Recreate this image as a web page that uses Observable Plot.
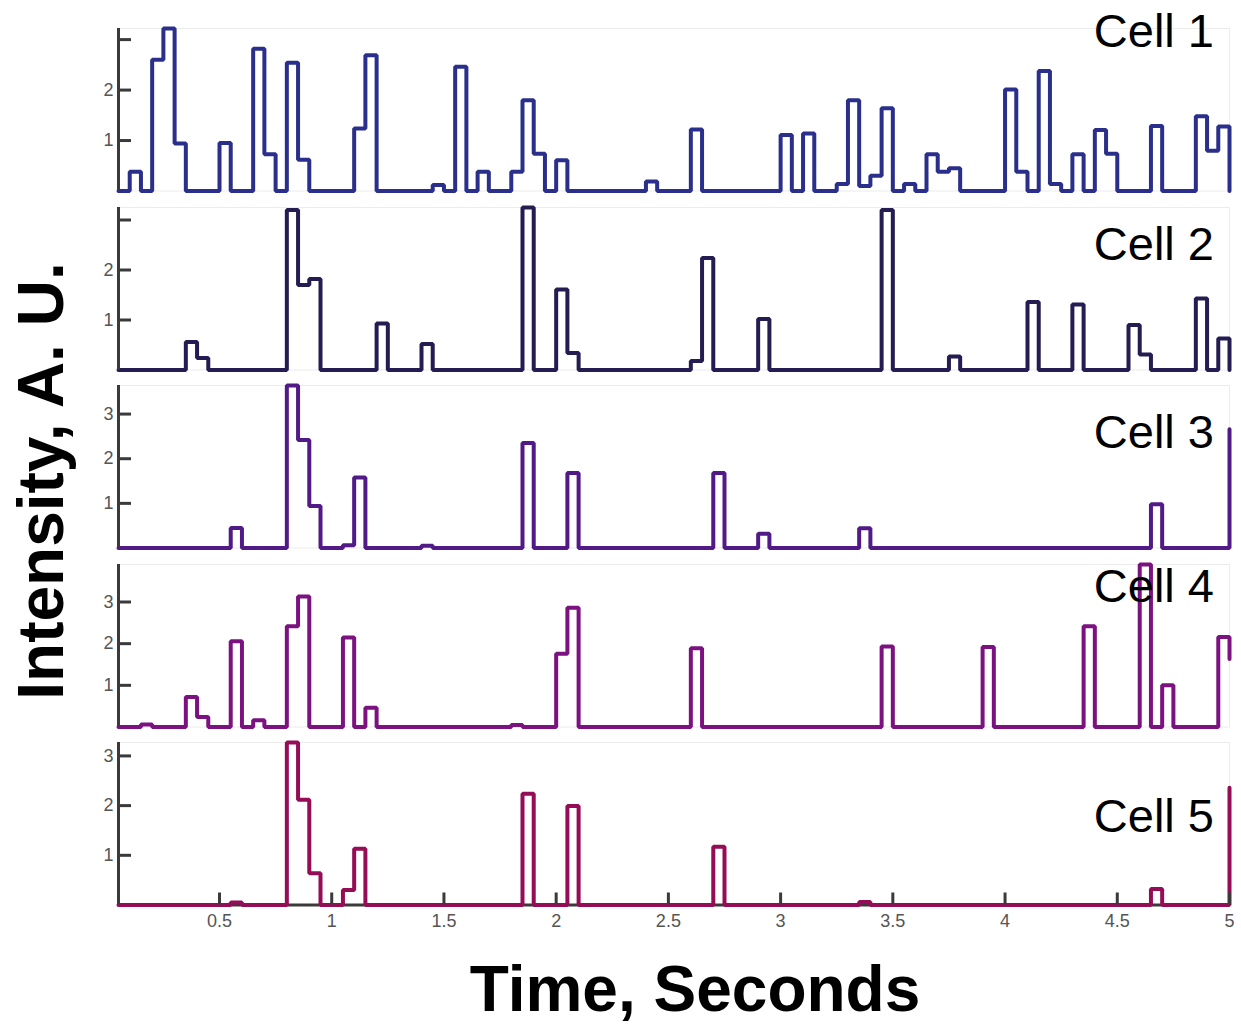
<!DOCTYPE html>
<html>
<head>
<meta charset="utf-8">
<script src="https://cdn.jsdelivr.net/npm/d3@7"></script>
<script src="https://cdn.jsdelivr.net/npm/@observablehq/plot@0.6"></script>
<style>
  html, body { margin: 0; padding: 0; background: #fff; }
  #page { position: relative; width: 1241px; height: 1026px; background: #fff; overflow: hidden; }
  .panel { position: absolute; left: 0; }
  #overlay { position: absolute; left: 0; top: 0; pointer-events: none; }
</style>
</head>
<body>
<div id="page"></div>
<script>
// ---------- data ----------
// sample times 0.05 s ... 5.00 s (step 0.05 s)
const time = d3.range(1, 101).map(k => Math.round(k * 5) / 100);

const cellNames = ["Cell 1", "Cell 2", "Cell 3", "Cell 4", "Cell 5"];
const cellColors = ["#2a2f8b", "#251c52", "#521a86", "#7c1280", "#960d57"];

const cell1 = [
  0, 0.38, 0, 2.6, 3.22, 0.94, 0, 0, 0, 0.95,
  0, 0, 2.82, 0.73, 0, 2.54, 0.62, 0, 0, 0,
  0, 1.24, 2.69, 0, 0, 0, 0, 0, 0.12, 0,
  2.46, 0, 0.38, 0, 0, 0.38, 1.8, 0.74, 0, 0.61,
  0, 0, 0, 0, 0, 0, 0, 0.19, 0, 0,
  0, 1.22, 0, 0, 0, 0, 0, 0, 0, 1.11,
  0, 1.14, 0, 0, 0.14, 1.8, 0.1, 0.3, 1.64, 0,
  0.14, 0, 0.73, 0.38, 0.45, 0, 0, 0, 0, 2.01,
  0.38, 0, 2.38, 0.14, 0, 0.73, 0, 1.21, 0.74, 0,
  0, 0, 1.29, 0, 0, 0, 1.48, 0.8, 1.28, 0
];
const cell2 = [
  0, 0, 0, 0, 0, 0, 0.56, 0.24, 0, 0,
  0, 0, 0, 0, 0, 3.2, 1.7, 1.82, 0, 0,
  0, 0, 0, 0.93, 0, 0, 0, 0.52, 0, 0,
  0, 0, 0, 0, 0, 0, 3.25, 0, 0, 1.61,
  0.34, 0, 0, 0, 0, 0, 0, 0, 0, 0,
  0, 0.18, 2.24, 0, 0, 0, 0, 1.02, 0, 0,
  0, 0, 0, 0, 0, 0, 0, 0, 3.2, 0,
  0, 0, 0, 0, 0.27, 0, 0, 0, 0, 0,
  0, 1.36, 0, 0, 0, 1.31, 0, 0, 0, 0,
  0.9, 0.31, 0, 0, 0, 0, 1.43, 0, 0.63, 0
];
const cell3 = [
  0, 0, 0, 0, 0, 0, 0, 0, 0, 0,
  0.45, 0, 0, 0, 0, 3.64, 2.42, 0.94, 0, 0,
  0.06, 1.58, 0, 0, 0, 0, 0, 0.05, 0, 0,
  0, 0, 0, 0, 0, 0, 2.35, 0, 0, 0,
  1.68, 0, 0, 0, 0, 0, 0, 0, 0, 0,
  0, 0, 0, 1.68, 0, 0, 0, 0.32, 0, 0,
  0, 0, 0, 0, 0, 0, 0.44, 0, 0, 0,
  0, 0, 0, 0, 0, 0, 0, 0, 0, 0,
  0, 0, 0, 0, 0, 0, 0, 0, 0, 0,
  0, 0, 0.98, 0, 0, 0, 0, 0, 0, 2.66
];
const cell4 = [
  0, 0, 0.06, 0, 0, 0, 0.72, 0.24, 0, 0,
  2.06, 0, 0.16, 0, 0, 2.42, 3.13, 0, 0, 0,
  2.15, 0, 0.46, 0, 0, 0, 0, 0, 0, 0,
  0, 0, 0, 0, 0, 0.05, 0, 0, 0, 1.76,
  2.86, 0, 0, 0, 0, 0, 0, 0, 0, 0,
  0, 1.89, 0, 0, 0, 0, 0, 0, 0, 0,
  0, 0, 0, 0, 0, 0, 0, 0, 1.93, 0,
  0, 0, 0, 0, 0, 0, 0, 1.92, 0, 0,
  0, 0, 0, 0, 0, 0, 2.42, 0, 0, 0,
  0, 3.9, 0, 1.0, 0, 0, 0, 0, 2.16, 1.63
];
const cell5 = [
  0, 0, 0, 0, 0, 0, 0, 0, 0, 0,
  0.05, 0, 0, 0, 0, 3.27, 2.12, 0.64, 0, 0,
  0.3, 1.13, 0, 0, 0, 0, 0, 0, 0, 0,
  0, 0, 0, 0, 0, 0, 2.24, 0, 0, 0,
  1.99, 0, 0, 0, 0, 0, 0, 0, 0, 0,
  0, 0, 0, 1.17, 0, 0, 0, 0, 0, 0,
  0, 0, 0, 0, 0, 0, 0.06, 0, 0, 0,
  0, 0, 0, 0, 0, 0, 0, 0, 0, 0,
  0, 0, 0, 0, 0, 0, 0, 0, 0, 0,
  0, 0, 0.32, 0, 0, 0, 0, 0, 0, 2.36
];
const cells = [cell1, cell2, cell3, cell4, cell5];

// tick marks / labels
const yTickMarks = [1, 2, 3];
const yTickLabels = [[1, 2], [1, 2], [1, 2, 3], [1, 2, 3], [1, 2, 3]];
const xTicks = [0.5, 1, 1.5, 2, 2.5, 3, 3.5, 4, 4.5, 5];

const xTitle = "Time, Seconds";
const yTitle = "Intensity, A. U.";

// ---------- layout ----------
const W = 1241, H = 1026;
const ML = 118, MR = 12;
const frameH = 162.5;
const panelTops = [28, 206.5, 385, 563.5, 742];
const labelBaselines = [47, 260, 448, 602, 832];
const axisColor = "#3a3a3a";
const tickLabelColor = "#555";
const FONT = "'Liberation Sans', Arial, Helvetica, sans-serif";

const page = document.getElementById("page");

cells.forEach((values, i) => {
  const last = i === cells.length - 1;
  const mt = 6, mb = last ? 44 : 6;
  const data = time.map((t, j) => ({t, v: values[j]}));
  const frameW = W - ML - MR;
  const chart = Plot.plot({
    width: W,
    height: frameH + mt + mb,
    marginLeft: ML, marginRight: MR, marginTop: mt, marginBottom: mb,
    x: {domain: [0.05, 5], axis: last ? undefined : null},
    y: {domain: [0, d3.max(values)]},
    style: {background: "transparent", overflow: "visible", fontFamily: FONT},
    marks: [
      Plot.frame({stroke: "#ececec", strokeWidth: 1}),
      last ? Plot.ruleY([0], {stroke: axisColor, strokeWidth: 3}) : null,
      Plot.lineY(data, {x: "t", y: "v", curve: "step-after", stroke: cellColors[i], strokeWidth: 4, strokeLinejoin: "miter"}),
      Plot.ruleX([0.05], {stroke: axisColor, strokeWidth: 3}),
      Plot.tickY(yTickMarks, {y: d => d, stroke: axisColor, strokeWidth: 3, insetRight: frameW - 13}),
      Plot.axisY(yTickLabels[i], {label: null, tickSize: 0, tickPadding: 5, fontSize: 18, fill: tickLabelColor, tickFormat: d => String(d)}),
      last ? Plot.tickX(xTicks, {x: d => d, stroke: axisColor, strokeWidth: 3, insetTop: frameH - 12}) : null,
      last ? Plot.axisX(xTicks, {label: null, tickSize: 0, tickPadding: 9, fontSize: 18, fill: tickLabelColor, tickFormat: d => String(d)}) : null
    ]
  });
  const wrap = document.createElement("div");
  wrap.className = "panel";
  wrap.style.top = (panelTops[i] - mt) + "px";
  wrap.appendChild(chart);
  page.appendChild(wrap);
});

// ---------- text overlay ----------
const svg = d3.select(page).append("svg")
  .attr("id", "overlay")
  .attr("width", W).attr("height", H)
  .style("font-family", FONT);

cellNames.forEach((name, i) => {
  svg.append("text")
    .attr("x", 1214).attr("y", labelBaselines[i])
    .attr("text-anchor", "end")
    .attr("font-size", 47)
    .attr("fill", "#000")
    .text(name);
});

svg.append("text")
  .attr("x", 695).attr("y", 1011)
  .attr("text-anchor", "middle")
  .attr("font-size", 64).attr("font-weight", "bold")
  .attr("fill", "#000")
  .text(xTitle);

svg.append("text")
  .attr("transform", "translate(63,481) rotate(-90)")
  .attr("text-anchor", "middle")
  .attr("font-size", 64).attr("font-weight", "bold")
  .attr("fill", "#000")
  .text(yTitle);
</script>
</body>
</html>
